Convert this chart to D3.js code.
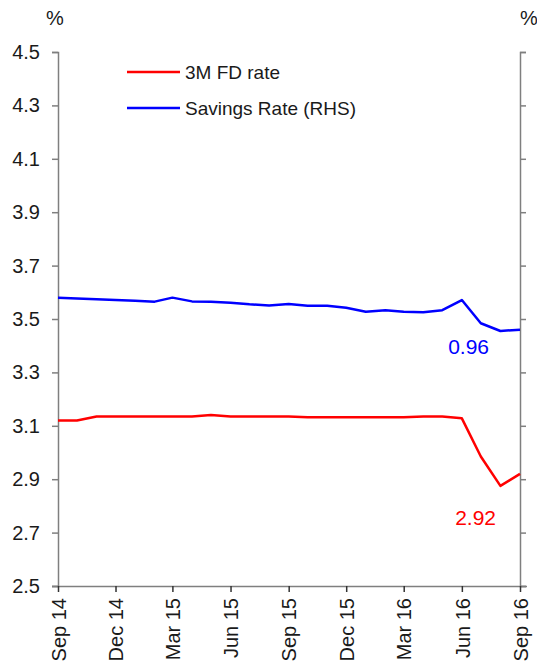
<!DOCTYPE html>
<html>
<head>
<meta charset="utf-8">
<script src="https://cdn.jsdelivr.net/npm/d3@7"></script>
<style>
  html, body { margin: 0; padding: 0; background: #fff; }
  svg { display: block; font-family: "Liberation Sans", Arial, sans-serif; }
</style>
</head>
<body>
<svg id="chart" width="537" height="668"></svg>
<script>
// Monthly observations, Sep 2014 – Sep 2016
const months = [
  "2014-09","2014-10","2014-11","2014-12","2015-01","2015-02","2015-03","2015-04",
  "2015-05","2015-06","2015-07","2015-08","2015-09","2015-10","2015-11","2015-12",
  "2016-01","2016-02","2016-03","2016-04","2016-05","2016-06","2016-07","2016-08","2016-09"
];
// 3-month fixed deposit rate, % (left axis)
const fdRate = [
  3.12, 3.12, 3.135, 3.135, 3.135, 3.135, 3.135, 3.135,
  3.14, 3.135, 3.135, 3.135, 3.135, 3.132, 3.132, 3.132,
  3.132, 3.132, 3.132, 3.135, 3.135, 3.128, 2.985, 2.875, 2.92
];
// Savings rate, % (right axis)
const savingsRate = [
  1.080, 1.077, 1.074, 1.071, 1.068, 1.065, 1.080, 1.066,
  1.065, 1.061, 1.055, 1.051, 1.056, 1.050, 1.050, 1.042,
  1.027, 1.033, 1.027, 1.025, 1.033, 1.071, 0.984, 0.955, 0.96
];
const leftTicks = [2.5, 2.7, 2.9, 3.1, 3.3, 3.5, 3.7, 3.9, 4.1, 4.3, 4.5];
const rightTicks = [0, 0.2, 0.4, 0.6, 0.8, 1.0, 1.2, 1.4, 1.6, 1.8, 2.0];
const seriesNames = ["3M FD rate", "Savings Rate (RHS)"];
const seriesColors = ["#ff0000", "#0000ff"];

const parse = d3.timeParse("%Y-%m");
const dates = months.map(parse);
// Quarterly date ticks: Sep 14, Dec 14, ... Sep 16
const xTicks = dates.filter((d, i) => i % 3 === 0);

const svg = d3.select("#chart");
const m = { left: 58, right: 520, top: 52, bottom: 586 };

const x = d3.scaleTime().domain(d3.extent(dates)).range([m.left, m.right]);
const yL = d3.scaleLinear().domain([2.5, 4.5]).range([m.bottom, m.top]);
const yR = d3.scaleLinear().domain([0, 2.0]).range([m.bottom, m.top]);

const axisColor = "#7f7f7f";
const fontSize = 20;

// Left axis
const gL = svg.append("g").attr("transform", `translate(${m.left},0)`)
  .call(d3.axisLeft(yL).tickValues(leftTicks).tickFormat(d3.format(".1f")).tickSize(6).tickPadding(12));
// Right axis (unlabelled ticks)
const gR = svg.append("g").attr("transform", `translate(${m.right},0)`)
  .call(d3.axisRight(yR).tickValues(rightTicks).tickFormat("").tickSize(6));
// Bottom axis
const gB = svg.append("g").attr("transform", `translate(0,${m.bottom})`)
  .call(d3.axisBottom(x).tickValues(xTicks).tickFormat(d3.timeFormat("%b %y")).tickSize(6).tickSizeOuter(0));

[gL, gR, gB].forEach(g => {
  g.select(".domain").attr("stroke", axisColor).attr("stroke-width", 1.5);
  g.selectAll(".tick line").attr("stroke", axisColor).attr("stroke-width", 1.5);
  g.selectAll("text").attr("fill", "#1a1a1a").style("font-size", fontSize + "px")
    .style("font-family", '"Liberation Sans", Arial, sans-serif');
});
gB.select(".domain").attr("d", `M${m.left - 6},0.5H${m.right + 7}`);
gB.selectAll(".tick line").attr("stroke", "#333");
gB.selectAll(".tick text")
  .attr("transform", "rotate(-90)")
  .attr("text-anchor", "end")
  .attr("x", -12).attr("y", 0).attr("dy", "0.36em");

// Unit labels
svg.append("text").attr("x", 55).attr("y", 25).attr("text-anchor", "middle")
  .style("font-size", fontSize + "px").attr("fill", "#1a1a1a").text("%");
svg.append("text").attr("x", 520).attr("y", 25).attr("text-anchor", "start")
  .style("font-size", fontSize + "px").attr("fill", "#1a1a1a").text("%");

// Lines
const lineL = d3.line().x((d, i) => x(dates[i])).y(d => yL(d));
const lineR = d3.line().x((d, i) => x(dates[i])).y(d => yR(d));
svg.append("path").datum(fdRate).attr("d", lineL)
  .attr("fill", "none").attr("stroke", seriesColors[0]).attr("stroke-width", 2.5).attr("stroke-linejoin", "round");
svg.append("path").datum(savingsRate).attr("d", lineR)
  .attr("fill", "none").attr("stroke", seriesColors[1]).attr("stroke-width", 2.5).attr("stroke-linejoin", "round");

// End-value labels
const last = dates.length - 1;
svg.append("text").attr("x", x(dates[last]) - 31).attr("y", yR(savingsRate[last]) + 24)
  .attr("text-anchor", "end").style("font-size", "21px").attr("fill", seriesColors[1])
  .text(d3.format(".2f")(savingsRate[last]));
svg.append("text").attr("x", x(dates[last]) - 24).attr("y", yL(fdRate[last]) + 51)
  .attr("text-anchor", "end").style("font-size", "21px").attr("fill", seriesColors[0])
  .text(d3.format(".2f")(fdRate[last]));

// Legend
const legend = svg.append("g");
seriesNames.forEach((name, i) => {
  const ly = 72 + i * 36;
  legend.append("line").attr("x1", 127).attr("x2", 180).attr("y1", ly).attr("y2", ly)
    .attr("stroke", seriesColors[i]).attr("stroke-width", 2.5);
  legend.append("text").attr("x", 185).attr("y", ly).attr("dy", "0.36em")
    .style("font-size", "19px").attr("fill", "#1a1a1a").text(name);
});
</script>
</body>
</html>
